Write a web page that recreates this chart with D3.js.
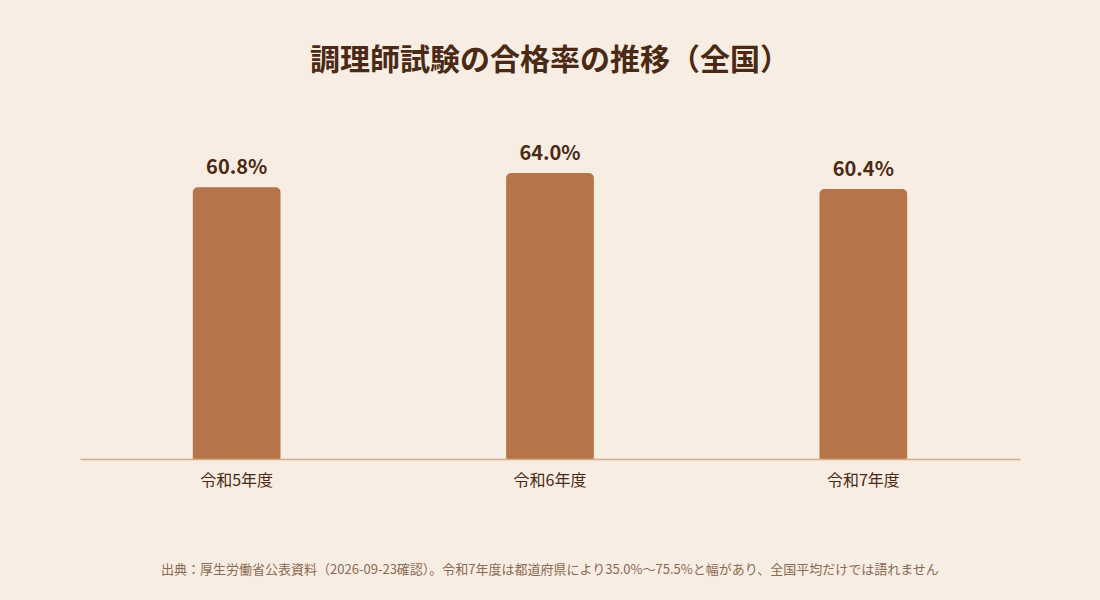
<!DOCTYPE html>
<html><head><meta charset="utf-8">
<script src="https://cdn.jsdelivr.net/npm/d3@7"></script>
<style>body{margin:0;background:#f7ede2;}svg{display:block;font-family:"Noto Sans CJK JP","Noto Sans",sans-serif;}</style>
</head><body><svg id="c" width="1100" height="600"></svg>
<script>
const categories = ["令和5年度","令和6年度","令和7年度"];
const values = [60.8, 64.0, 60.4];
const title = "調理師試験の合格率の推移（全国）";
const source = "出典：厚生労働省公表資料（2026-09-23確認）。令和7年度は都道府県により35.0%〜75.5%と幅があり、全国平均だけでは語れません";

const svg = d3.select("#c");
svg.append("rect").attr("width",1100).attr("height",600).attr("fill","#f7ede2");
const x = d3.scaleBand().domain(categories).range([80,1020]).paddingInner(0.72).paddingOuter(0.36);
const y = d3.scaleLinear().domain([0,100]).range([459,12]);

svg.append("text").attr("x",550).attr("y",70).attr("text-anchor","middle")
  .attr("font-size",30).attr("font-weight",700).attr("fill","#4a2a14").text(title);

svg.selectAll(".bar").data(values).join("rect")
  .attr("x",(d,i)=>x(categories[i])).attr("width",x.bandwidth())
  .attr("y",d=>y(d)).attr("height",d=>y(0)-y(d)+3).attr("rx",5)
  .attr("fill","#b5744a");
svg.append("rect").attr("x",80).attr("y",459).attr("width",940).attr("height",10).attr("fill","#f7ede2");

svg.selectAll(".lbl").data(values).join("text")
  .attr("x",(d,i)=>x(categories[i])+x.bandwidth()/2).attr("y",d=>y(d)-13)
  .attr("text-anchor","middle").attr("font-size",20).attr("font-weight",700)
  .attr("fill","#4a2a14").text(d=>d.toFixed(1)+"%");

const ax = svg.append("g").attr("transform","translate(0,459)")
  .call(d3.axisBottom(x).tickSize(0).tickPadding(16));
ax.select(".domain").attr("stroke","#d2ad88").attr("stroke-width",1.5);
ax.selectAll("text").attr("font-size",16).attr("fill","#4a2a14").attr("font-family","Noto Sans CJK JP");

svg.append("text").attr("x",550).attr("y",574).attr("text-anchor","middle")
  .attr("font-size",13).attr("fill","#8a6a52").text(source);
</script></body></html>
